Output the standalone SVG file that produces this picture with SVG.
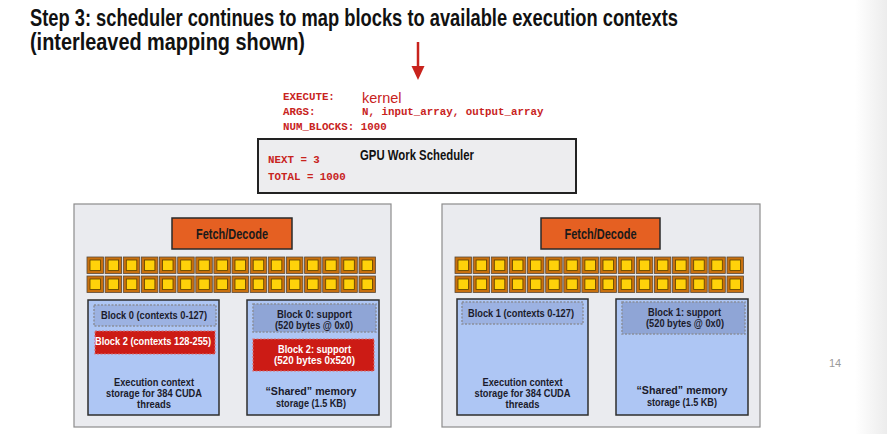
<svg xmlns="http://www.w3.org/2000/svg" xmlns:xlink="http://www.w3.org/1999/xlink" width="887" height="434" viewBox="0 0 887 434">
<defs>
<style>
.title{font-family:"Liberation Sans Narrow","Liberation Sans",Arial,sans-serif;font-weight:bold;font-size:23px;fill:#111}
.code{font-family:"Liberation Mono","Courier New",monospace;font-weight:bold;font-size:10.8px;fill:#c8231d}
.core{fill:#eaebef;stroke:#8c8c8c;stroke-width:1.2}
.fd{fill:#e56022;stroke:#2a2a2a;stroke-width:1.5}
.fdt{font-family:"Liberation Sans Narrow","Liberation Sans",Arial,sans-serif;font-weight:bold;font-size:15px;fill:#1a1a1a;text-anchor:middle}
.store{fill:#aec6f4;stroke:#2e2e2e;stroke-width:1.5}
.blk{fill:#9cb2e2;stroke:#8a8f9a;stroke-width:1.5;stroke-dasharray:2 1.5}
.blks{fill:#8fa5d6;stroke:#8a8f9a;stroke-width:1.5;stroke-dasharray:2 1.5}
.red{fill:#cc1b15;stroke:#d87070;stroke-width:1.2;stroke-dasharray:2 1.5}
.t{font-family:"Liberation Sans Narrow","Liberation Sans",Arial,sans-serif;font-weight:bold;font-size:10px;fill:#1b1b2b;text-anchor:middle}
.tw{font-family:"Liberation Sans Narrow","Liberation Sans",Arial,sans-serif;font-weight:bold;font-size:10px;fill:#ffffff;text-anchor:middle}
</style>
<linearGradient id="edge" x1="0" y1="0" x2="1" y2="0">
<stop offset="0" stop-color="#ffffff"/>
<stop offset="1" stop-color="#ececec"/>
</linearGradient>
<g id="alu">
<rect x="0" y="0" width="16.5" height="16.5" fill="#c8700e" stroke="#5a4a3a" stroke-width="0.8"/>
<rect x="3" y="3" width="10.5" height="10.5" fill="#ffd20a" stroke="#5a3e00" stroke-width="0.8"/>
</g>
</defs>

<rect x="0" y="0" width="887" height="434" fill="#ffffff"/>
<rect x="855" y="0" width="32" height="434" fill="url(#edge)"/>

<g id="title">
<text class="title" x="30" y="26" textLength="648" lengthAdjust="spacingAndGlyphs">Step 3: scheduler continues to map blocks to available execution contexts</text>
<text class="title" x="30" y="50" textLength="275" lengthAdjust="spacingAndGlyphs">(interleaved mapping shown)</text>
</g>

<g id="connectors">
<line x1="418" y1="42" x2="418" y2="68" stroke="#c8231d" stroke-width="2.5"/>
<path d="M411.5,66 L424.5,66 L418,80 z" fill="#c8231d"/>
</g>

<g id="kernel-launch">
<text class="code" x="283" y="100">EXECUTE:</text>
<text x="362" y="103" font-family="'Liberation Sans',Arial,sans-serif" font-size="14.5" fill="#c8231d">kernel</text>
<text class="code" x="283" y="115">ARGS:</text>
<text class="code" x="362" y="115">N, input_array, output_array</text>
<text class="code" x="283" y="130">NUM_BLOCKS: 1000</text>
</g>

<g id="scheduler">
<rect x="258" y="139" width="318" height="54" fill="#ededef" stroke="#222222" stroke-width="2"/>
<text x="417" y="160" font-family="'Liberation Sans Narrow','Liberation Sans',Arial,sans-serif" font-weight="bold" font-size="14.5" fill="#111" text-anchor="middle" textLength="114" lengthAdjust="spacingAndGlyphs">GPU Work Scheduler</text>
<text class="code" x="268" y="163">NEXT = 3</text>
<text class="code" x="268" y="180">TOTAL = 1000</text>
</g>

<g id="core0">
<rect class="core" x="74" y="204" width="317" height="223"/>
<g id="core0-fetch">
<rect class="fd" x="172" y="218" width="120" height="31"/>
<text class="fdt" x="232" y="239" textLength="72" lengthAdjust="spacingAndGlyphs">Fetch/Decode</text>
</g>
<g id="core0-alus">
<use xlink:href="#alu" x="87" y="257"/><use xlink:href="#alu" x="105.1" y="257"/><use xlink:href="#alu" x="123.3" y="257"/><use xlink:href="#alu" x="141.4" y="257"/>
<use xlink:href="#alu" x="159.5" y="257"/><use xlink:href="#alu" x="177.7" y="257"/><use xlink:href="#alu" x="195.8" y="257"/><use xlink:href="#alu" x="213.9" y="257"/>
<use xlink:href="#alu" x="232" y="257"/><use xlink:href="#alu" x="250.2" y="257"/><use xlink:href="#alu" x="268.3" y="257"/><use xlink:href="#alu" x="286.4" y="257"/>
<use xlink:href="#alu" x="304.6" y="257"/><use xlink:href="#alu" x="322.7" y="257"/><use xlink:href="#alu" x="340.8" y="257"/><use xlink:href="#alu" x="359" y="257"/>
<use xlink:href="#alu" x="87" y="276"/><use xlink:href="#alu" x="105.1" y="276"/><use xlink:href="#alu" x="123.3" y="276"/><use xlink:href="#alu" x="141.4" y="276"/>
<use xlink:href="#alu" x="159.5" y="276"/><use xlink:href="#alu" x="177.7" y="276"/><use xlink:href="#alu" x="195.8" y="276"/><use xlink:href="#alu" x="213.9" y="276"/>
<use xlink:href="#alu" x="232" y="276"/><use xlink:href="#alu" x="250.2" y="276"/><use xlink:href="#alu" x="268.3" y="276"/><use xlink:href="#alu" x="286.4" y="276"/>
<use xlink:href="#alu" x="304.6" y="276"/><use xlink:href="#alu" x="322.7" y="276"/><use xlink:href="#alu" x="340.8" y="276"/><use xlink:href="#alu" x="359" y="276"/>
</g>
<g id="core0-ctx">
<rect class="store" x="88" y="300" width="131" height="115"/>
<rect class="blk" x="94" y="305" width="122" height="21"/>
<text class="t" x="154" y="319" textLength="106" lengthAdjust="spacingAndGlyphs">Block 0 (contexts 0-127)</text>
<rect class="red" x="95" y="331" width="120" height="23"/>
<text class="tw" x="153" y="345" textLength="116" lengthAdjust="spacingAndGlyphs">Block 2 (contexts 128-255)</text>
<text class="t" x="154" y="386" textLength="80" lengthAdjust="spacingAndGlyphs">Execution context</text>
<text class="t" x="154" y="397" textLength="96" lengthAdjust="spacingAndGlyphs">storage for 384 CUDA</text>
<text class="t" x="154" y="408" textLength="34" lengthAdjust="spacingAndGlyphs">threads</text>
</g>
<g id="core0-shared">
<rect class="store" x="247" y="300" width="132" height="115"/>
<rect class="blks" x="253" y="304" width="123" height="28"/>
<text class="t" x="314.5" y="318" textLength="75" lengthAdjust="spacingAndGlyphs">Block 0: support</text>
<text class="t" x="314" y="329" textLength="78" lengthAdjust="spacingAndGlyphs">(520 bytes @ 0x0)</text>
<rect class="red" x="253" y="339" width="121" height="32"/>
<text class="tw" x="314.5" y="353" textLength="73" lengthAdjust="spacingAndGlyphs">Block 2: support</text>
<text class="tw" x="314.5" y="364" textLength="81" lengthAdjust="spacingAndGlyphs">(520 bytes 0x520)</text>
<text class="t" x="311" y="395" textLength="91" lengthAdjust="spacingAndGlyphs">“Shared” memory</text>
<text class="t" x="311" y="407" textLength="70" lengthAdjust="spacingAndGlyphs">storage (1.5 KB)</text>
</g>
</g>

<g id="core1">
<rect class="core" x="442" y="204" width="318" height="223"/>
<g id="core1-fetch">
<rect class="fd" x="541" y="218" width="119" height="31"/>
<text class="fdt" x="600.5" y="239" textLength="72" lengthAdjust="spacingAndGlyphs">Fetch/Decode</text>
</g>
<g id="core1-alus">
<use xlink:href="#alu" x="455" y="257"/><use xlink:href="#alu" x="473.1" y="257"/><use xlink:href="#alu" x="491.3" y="257"/><use xlink:href="#alu" x="509.4" y="257"/>
<use xlink:href="#alu" x="527.5" y="257"/><use xlink:href="#alu" x="545.7" y="257"/><use xlink:href="#alu" x="563.8" y="257"/><use xlink:href="#alu" x="581.9" y="257"/>
<use xlink:href="#alu" x="600" y="257"/><use xlink:href="#alu" x="618.2" y="257"/><use xlink:href="#alu" x="636.3" y="257"/><use xlink:href="#alu" x="654.4" y="257"/>
<use xlink:href="#alu" x="672.6" y="257"/><use xlink:href="#alu" x="690.7" y="257"/><use xlink:href="#alu" x="708.8" y="257"/><use xlink:href="#alu" x="727" y="257"/>
<use xlink:href="#alu" x="455" y="276"/><use xlink:href="#alu" x="473.1" y="276"/><use xlink:href="#alu" x="491.3" y="276"/><use xlink:href="#alu" x="509.4" y="276"/>
<use xlink:href="#alu" x="527.5" y="276"/><use xlink:href="#alu" x="545.7" y="276"/><use xlink:href="#alu" x="563.8" y="276"/><use xlink:href="#alu" x="581.9" y="276"/>
<use xlink:href="#alu" x="600" y="276"/><use xlink:href="#alu" x="618.2" y="276"/><use xlink:href="#alu" x="636.3" y="276"/><use xlink:href="#alu" x="654.4" y="276"/>
<use xlink:href="#alu" x="672.6" y="276"/><use xlink:href="#alu" x="690.7" y="276"/><use xlink:href="#alu" x="708.8" y="276"/><use xlink:href="#alu" x="727" y="276"/>
</g>
<g id="core1-ctx">
<rect class="store" x="457" y="299" width="131" height="116"/>
<rect class="blk" x="462" y="302" width="121" height="22"/>
<text class="t" x="521" y="317" textLength="106" lengthAdjust="spacingAndGlyphs">Block 1 (contexts 0-127)</text>
<text class="t" x="522.5" y="386" textLength="80" lengthAdjust="spacingAndGlyphs">Execution context</text>
<text class="t" x="522.5" y="397" textLength="96" lengthAdjust="spacingAndGlyphs">storage for 384 CUDA</text>
<text class="t" x="522.5" y="408" textLength="34" lengthAdjust="spacingAndGlyphs">threads</text>
</g>
<g id="core1-shared">
<rect class="store" x="616" y="299" width="132" height="116"/>
<rect class="blks" x="622" y="302" width="123" height="32"/>
<text class="t" x="684.5" y="316" textLength="73" lengthAdjust="spacingAndGlyphs">Block 1: support</text>
<text class="t" x="685" y="327" textLength="78" lengthAdjust="spacingAndGlyphs">(520 bytes @ 0x0)</text>
<text class="t" x="682" y="394" textLength="91" lengthAdjust="spacingAndGlyphs">“Shared” memory</text>
<text class="t" x="682" y="406" textLength="70" lengthAdjust="spacingAndGlyphs">storage (1.5 KB)</text>
</g>
</g>

<g id="page-number">
<text x="829" y="367" font-family="'Liberation Sans',Arial,sans-serif" font-size="11" fill="#9a9a9a">14</text>
</g>
</svg>
